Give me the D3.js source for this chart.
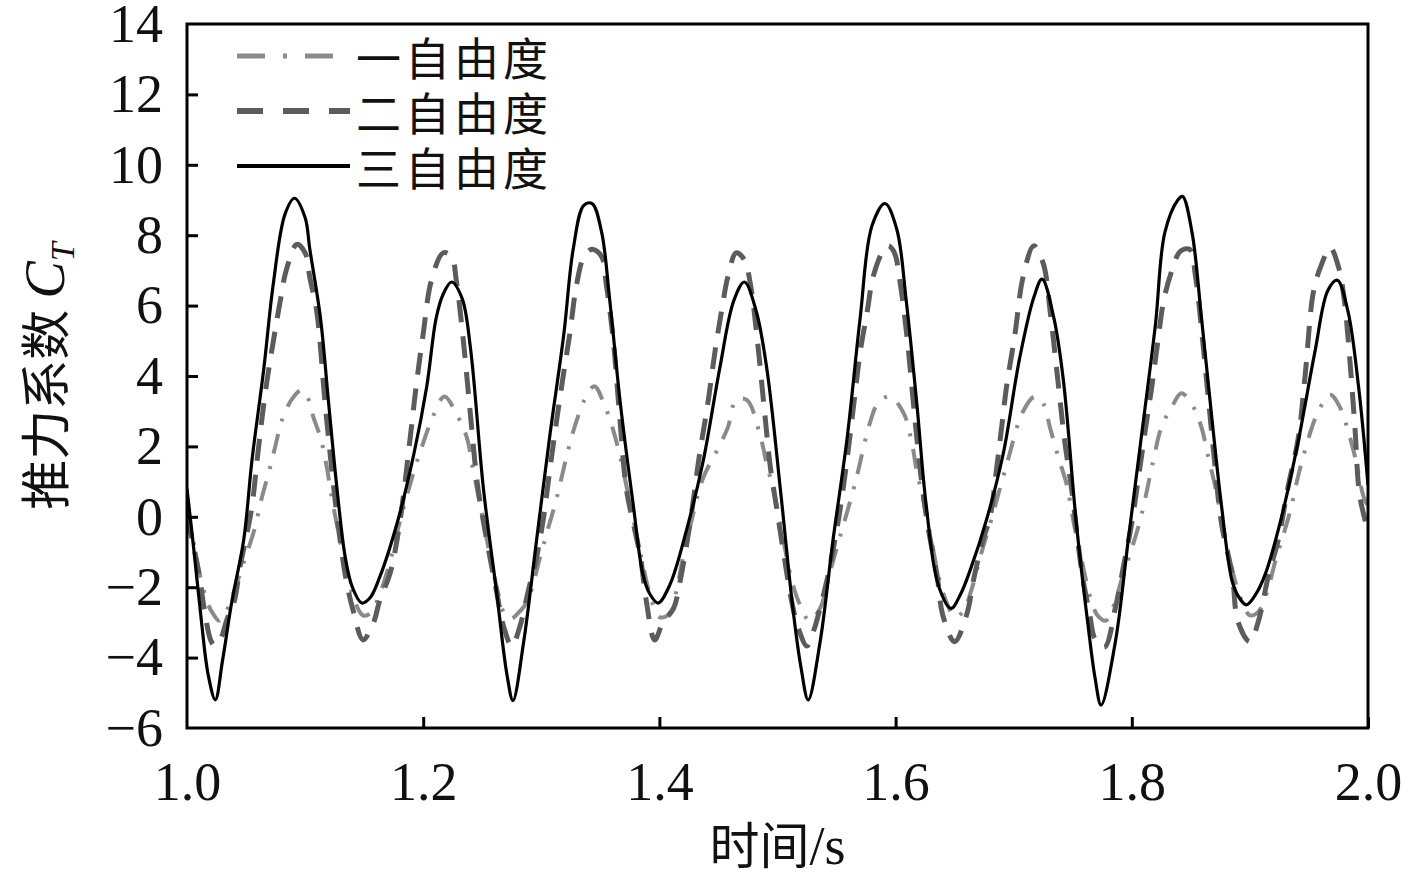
<!DOCTYPE html>
<head>
  <meta charset="utf-8">
  <script src="https://d3js.org/d3.v7.min.js"></script>
  <style>
    body { margin:0; background:#fff; }
    .tick text { font-family:"Liberation Serif","Times New Roman",serif; font-size:54px; fill:#111; }
    .cjk { font-family:"Noto Sans CJK SC","Noto Sans",sans-serif; }
  </style>
</head>
<body>
  <script>
    // thrust coefficient, [time s, CT]
    var oneDof = [[1.000,0.2],[1.006,-0.8],[1.012,-1.8],[1.018,-2.5],[1.022,-2.75],[1.027,-2.95],[1.033,-2.7],[1.040,-2.1],[1.048,-1.3],[1.057,-0.37],[1.063,0.5],[1.069,1.23],[1.074,1.9],[1.081,2.8],[1.089,3.35],[1.097,3.6],[1.102,3.4],[1.107,2.83],[1.113,2.25],[1.118,1.48],[1.122,0.65],[1.128,-0.4],[1.135,-1.5],[1.141,-2.3],[1.149,-2.8],[1.155,-2.75],[1.162,-2.3],[1.170,-1.5],[1.180,-0.17],[1.192,1.28],[1.200,2.1],[1.208,2.83],[1.218,3.42],[1.228,2.93],[1.237,2.25],[1.242,1.38],[1.249,0.2],[1.256,-1.0],[1.263,-2.1],[1.268,-2.7],[1.274,-2.9],[1.280,-2.75],[1.288,-2.41],[1.299,-1.15],[1.306,-0.3],[1.312,0.4],[1.324,2.06],[1.330,2.74],[1.338,3.42],[1.345,3.71],[1.353,3.22],[1.361,2.45],[1.367,1.67],[1.378,-0.08],[1.385,-1.2],[1.392,-2.2],[1.400,-2.85],[1.409,-2.75],[1.415,-2.0],[1.420,-1.15],[1.428,0.0],[1.437,1.1],[1.450,1.96],[1.458,2.54],[1.465,3.32],[1.474,3.32],[1.485,2.35],[1.491,1.48],[1.497,0.7],[1.504,-0.5],[1.512,-1.8],[1.519,-2.5],[1.527,-2.95],[1.536,-2.6],[1.545,-1.5],[1.553,-0.56],[1.566,0.99],[1.578,2.64],[1.585,3.22],[1.595,3.42],[1.607,2.93],[1.614,2.06],[1.618,1.28],[1.624,0.4],[1.631,-0.8],[1.638,-1.9],[1.644,-2.5],[1.650,-2.85],[1.657,-2.7],[1.664,-2.1],[1.672,-1.1],[1.681,-0.08],[1.694,1.48],[1.708,3.0],[1.718,3.42],[1.725,3.22],[1.731,2.5],[1.738,1.67],[1.745,0.9],[1.751,-0.2],[1.758,-1.3],[1.765,-2.3],[1.771,-2.8],[1.778,-2.95],[1.785,-2.5],[1.791,-1.83],[1.800,-0.9],[1.808,0.02],[1.818,1.57],[1.825,2.54],[1.834,3.13],[1.842,3.51],[1.852,3.13],[1.859,2.54],[1.865,1.67],[1.871,0.8],[1.878,-0.4],[1.885,-1.5],[1.892,-2.3],[1.900,-2.8],[1.907,-2.7],[1.914,-2.2],[1.922,-1.2],[1.933,0.02],[1.944,1.57],[1.958,3.0],[1.968,3.47],[1.976,3.13],[1.983,2.45],[1.990,1.57],[1.996,0.6],[2.000,0.3]];

    var twoDof = [[1.000,0.0],[1.006,-0.9],[1.011,-1.8],[1.015,-2.7],[1.020,-3.5],[1.023,-3.65],[1.028,-3.5],[1.034,-2.9],[1.040,-2.4],[1.045,-1.4],[1.050,-0.6],[1.055,0.3],[1.060,1.8],[1.067,3.7],[1.074,5.17],[1.079,6.14],[1.084,7.0],[1.093,7.74],[1.100,7.5],[1.104,6.8],[1.110,5.8],[1.117,3.2],[1.124,0.9],[1.129,-0.5],[1.135,-1.83],[1.141,-2.7],[1.149,-3.5],[1.158,-3.0],[1.163,-2.4],[1.172,-1.6],[1.180,-0.2],[1.189,2.25],[1.194,3.7],[1.200,5.2],[1.207,6.72],[1.217,7.5],[1.224,7.4],[1.228,6.72],[1.234,5.0],[1.240,2.9],[1.246,0.9],[1.254,-0.7],[1.262,-2.1],[1.268,-3.1],[1.275,-3.67],[1.282,-3.1],[1.289,-2.1],[1.296,-1.15],[1.302,0.0],[1.307,1.28],[1.313,2.74],[1.319,4.1],[1.324,5.17],[1.330,6.62],[1.336,7.38],[1.343,7.6],[1.351,7.4],[1.355,6.62],[1.361,5.0],[1.366,3.0],[1.372,0.8],[1.378,-0.2],[1.384,-1.15],[1.389,-2.41],[1.396,-3.5],[1.403,-3.0],[1.412,-2.6],[1.417,-1.92],[1.426,-0.17],[1.434,1.77],[1.441,3.22],[1.447,4.68],[1.453,5.92],[1.458,6.82],[1.465,7.5],[1.472,7.3],[1.477,6.62],[1.483,5.0],[1.489,3.0],[1.494,1.4],[1.499,0.31],[1.506,-1.2],[1.512,-2.4],[1.518,-3.2],[1.525,-3.67],[1.531,-3.2],[1.536,-2.6],[1.543,-1.63],[1.551,-0.2],[1.556,0.9],[1.561,2.2],[1.566,3.6],[1.570,4.68],[1.576,5.84],[1.581,6.82],[1.590,7.6],[1.594,7.7],[1.599,7.5],[1.604,6.62],[1.610,5.0],[1.616,2.9],[1.622,1.0],[1.628,-0.4],[1.635,-1.63],[1.640,-2.8],[1.650,-3.55],[1.660,-2.8],[1.667,-1.63],[1.674,-0.66],[1.680,0.0],[1.686,1.5],[1.690,2.6],[1.694,3.71],[1.701,5.17],[1.708,6.82],[1.717,7.7],[1.725,7.2],[1.731,5.8],[1.737,4.0],[1.743,2.2],[1.749,0.8],[1.758,-1.63],[1.764,-2.7],[1.769,-3.48],[1.777,-3.7],[1.786,-2.6],[1.793,-1.4],[1.800,-0.17],[1.806,1.2],[1.812,2.6],[1.817,3.71],[1.822,4.97],[1.827,6.14],[1.834,7.0],[1.841,7.54],[1.849,7.6],[1.854,6.82],[1.860,5.0],[1.865,3.3],[1.870,1.6],[1.876,-0.2],[1.885,-1.63],[1.890,-2.99],[1.900,-3.55],[1.907,-2.99],[1.916,-1.63],[1.924,-0.66],[1.932,0.8],[1.941,2.25],[1.947,4.1],[1.954,6.43],[1.961,7.2],[1.968,7.65],[1.975,7.1],[1.980,6.14],[1.985,4.3],[1.989,2.5],[1.993,0.6],[2.000,-0.4]];

    var threeDof = [[1.000,0.8],[1.006,-1.0],[1.012,-2.9],[1.018,-4.5],[1.024,-5.2],[1.030,-4.1],[1.038,-2.4],[1.048,-0.66],[1.055,1.6],[1.065,4.2],[1.073,6.6],[1.083,8.6],[1.091,9.05],[1.100,8.5],[1.104,7.6],[1.113,5.65],[1.120,3.2],[1.127,0.8],[1.134,-1.15],[1.140,-2.0],[1.148,-2.45],[1.155,-2.3],[1.163,-1.73],[1.178,-0.17],[1.192,1.77],[1.203,3.7],[1.211,5.65],[1.217,6.33],[1.224,6.67],[1.233,6.2],[1.240,4.8],[1.251,0.8],[1.262,-2.1],[1.271,-4.5],[1.276,-5.22],[1.285,-3.57],[1.296,-0.66],[1.307,2.25],[1.319,5.17],[1.327,7.6],[1.336,8.85],[1.343,8.9],[1.351,8.1],[1.358,6.14],[1.367,3.2],[1.378,0.3],[1.386,-1.63],[1.392,-2.2],[1.399,-2.45],[1.409,-1.92],[1.423,-0.37],[1.437,1.57],[1.451,4.2],[1.463,6.14],[1.472,6.67],[1.482,5.84],[1.491,4.2],[1.503,0.6],[1.513,-2.6],[1.520,-4.3],[1.526,-5.2],[1.536,-3.57],[1.547,-0.66],[1.559,2.25],[1.570,5.65],[1.580,8.27],[1.591,8.9],[1.601,8.17],[1.609,6.14],[1.618,3.2],[1.626,0.3],[1.636,-1.92],[1.647,-2.6],[1.655,-2.2],[1.663,-1.53],[1.677,-0.08],[1.691,1.77],[1.705,4.5],[1.717,6.23],[1.724,6.75],[1.734,5.65],[1.742,3.9],[1.753,-0.17],[1.763,-3.1],[1.769,-4.6],[1.774,-5.35],[1.786,-3.57],[1.797,-0.66],[1.808,2.25],[1.820,5.46],[1.828,8.08],[1.839,9.0],[1.843,9.1],[1.851,8.08],[1.859,5.65],[1.868,2.74],[1.876,0.3],[1.885,-1.83],[1.891,-2.3],[1.897,-2.5],[1.905,-2.2],[1.913,-1.63],[1.927,0.02],[1.941,2.16],[1.955,4.68],[1.966,6.43],[1.974,6.72],[1.983,5.84],[1.992,3.7],[2.000,0.9]];

    var seriesNames = ["一自由度", "二自由度", "三自由度"];
    var xTicks = [1.0, 1.2, 1.4, 1.6, 1.8, 2.0];
    var yTicks = [-6, -4, -2, 0, 2, 4, 6, 8, 10, 12, 14];

    var width = 1417, height = 880;
    var m = {left:187, right:49, top:24, bottom:152};

    var svg = d3.select("body").append("svg")
      .attr("width", width)
      .attr("height", height);

    var x = d3.scaleLinear().domain([1, 2]).range([m.left, width - m.right]);
    var y = d3.scaleLinear().domain([-6, 14]).range([height - m.bottom, m.top]);

    var styles = [
      {data: oneDof,   color:"#8a8a8a", w:4,   dash:"20,13,3,13"},
      {data: twoDof,   color:"#5c5c5c", w:5,   dash:"22,14"},
      {data: threeDof, color:"#000",    w:3.2, dash:null}
    ];

    var line = d3.line()
      .x(function(d){ return x(d[0]); })
      .y(function(d){ return y(d[1]); })
      .curve(d3.curveCatmullRom.alpha(0.5));

    svg.append("clipPath").attr("id","clip")
      .append("rect")
      .attr("x", m.left).attr("y", m.top)
      .attr("width", x(2) - x(1)).attr("height", y(-6) - y(14));

    var plot = svg.append("g").attr("clip-path","url(#clip)");
    styles.forEach(function(s){
      plot.append("path")
        .datum(s.data)
        .attr("d", line)
        .attr("fill","none")
        .attr("stroke", s.color)
        .attr("stroke-width", s.w)
        .attr("stroke-dasharray", s.dash)
        .attr("stroke-linejoin","round");
    });

    // axes, ticks inward
    var gx = svg.append("g")
      .attr("transform","translate(0," + y(-6) + ")")
      .call(d3.axisBottom(x).tickValues(xTicks).tickFormat(d3.format(".1f"))
        .tickSizeInner(-11).tickSizeOuter(0).tickPadding(34));
    var gy = svg.append("g")
      .attr("transform","translate(" + x(1) + ",0)")
      .call(d3.axisLeft(y).tickValues(yTicks)
        .tickSizeInner(-11).tickSizeOuter(0).tickPadding(24));
    [gx, gy].forEach(function(g){
      g.select(".domain").remove();
      g.selectAll(".tick line").attr("stroke","#000").attr("stroke-width",3);
    });
    gy.selectAll(".tick").filter(function(d){ return d === 14 || d === -6; }).select("line").remove();
    gx.selectAll(".tick").filter(function(d){ return d === 1; }).select("line").remove();

    svg.append("rect")
      .attr("x", x(1)).attr("y", y(14))
      .attr("width", x(2) - x(1)).attr("height", y(-6) - y(14))
      .attr("fill","none").attr("stroke","#000").attr("stroke-width",3);

    // legend
    var leg = svg.append("g");
    seriesNames.forEach(function(name, i){
      var ly = 56 + i * 55;
      leg.append("line")
        .attr("x1", 237).attr("x2", 350).attr("y1", ly).attr("y2", ly)
        .attr("stroke", styles[i].color)
        .attr("stroke-width", styles[i].w + 1)
        .attr("stroke-dasharray", styles[i].dash === null ? null : (i === 0 ? "28,18,4,18" : "26,20"));
      leg.append("text")
        .attr("class","cjk")
        .attr("x", 356).attr("y", ly)
        .attr("dominant-baseline","central")
        .attr("font-size", 45).attr("letter-spacing", 4)
        .attr("fill","#111")
        .text(name);
    });

    // axis titles
    var xt = svg.append("text")
      .attr("x", (x(1) + x(2)) / 2).attr("y", 864)
      .attr("text-anchor","middle").attr("font-size", 50).attr("fill","#111");
    xt.append("tspan").attr("class","cjk").text("时间");
    xt.append("tspan").attr("font-family","Liberation Serif, serif").attr("font-size", 54).text("/s");

    var yt = svg.append("text")
      .attr("transform","translate(64," + ((y(14) + y(-6)) / 2) + ") rotate(-90)")
      .attr("text-anchor","middle").attr("font-size", 50).attr("fill","#111");
    yt.append("tspan").attr("class","cjk").text("推力系数 ");
    yt.append("tspan").attr("font-family","Liberation Serif, serif").attr("font-style","italic")
      .attr("font-size", 56).text("C");
    yt.append("tspan").attr("font-family","Liberation Serif, serif").attr("font-style","italic")
      .attr("font-size", 34).attr("dy", 10).text("T");
  </script>
</body>
